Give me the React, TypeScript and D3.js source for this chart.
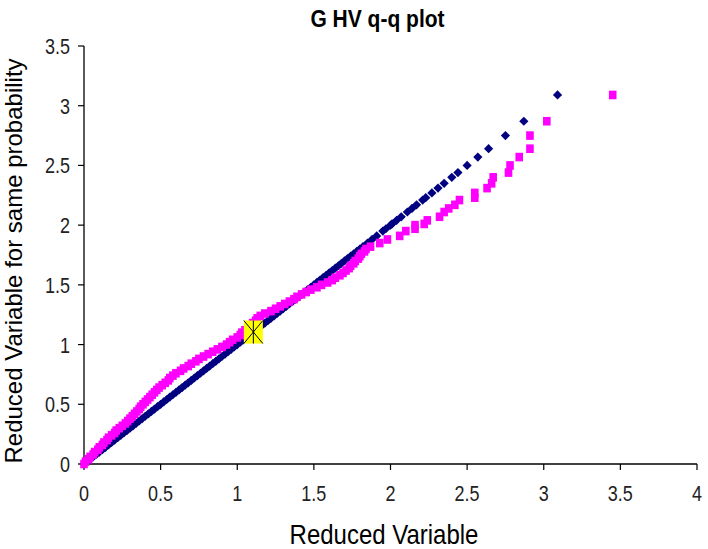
import React from "react";
import * as d3 from "d3";

const xTicks = [0, 0.5, 1, 1.5, 2, 2.5, 3, 3.5, 4];
const yTicks = [0, 0.5, 1, 1.5, 2, 2.5, 3, 3.5];

// theoretical reduced variable (shared probability axis)
const theoretical = [
  0.0, 0.02, 0.04, 0.06, 0.08, 0.1, 0.12, 0.14, 0.16, 0.18,
  0.2, 0.22, 0.24, 0.26, 0.28, 0.3, 0.32, 0.34, 0.36, 0.38,
  0.4, 0.42, 0.44, 0.46, 0.48, 0.5, 0.52, 0.54, 0.56, 0.58,
  0.6, 0.62, 0.64, 0.66, 0.68, 0.7, 0.72, 0.74, 0.76, 0.78,
  0.8, 0.82, 0.84, 0.86, 0.88, 0.9, 0.92, 0.94, 0.96, 0.98,
  1.0, 1.02, 1.04, 1.06, 1.08, 1.1, 1.12, 1.14, 1.16, 1.18,
  1.2, 1.22, 1.24, 1.26, 1.28, 1.3, 1.32, 1.34, 1.36, 1.38,
  1.4, 1.42, 1.44, 1.46, 1.48, 1.5, 1.52, 1.54, 1.56, 1.58,
  1.6, 1.62, 1.64, 1.66, 1.68, 1.7, 1.72, 1.74, 1.76, 1.78,
  1.8, 1.82,
  1.85, 1.88, 1.91, 1.95, 1.97, 2.0, 2.01, 2.04, 2.07, 2.11,
  2.14, 2.17, 2.21, 2.23, 2.27, 2.31, 2.35, 2.4, 2.44, 2.5,
  2.57, 2.64, 2.75, 2.87, 3.09,
];

// observed (empirical) reduced variable for the same probability
const empirical = [
  0.0, 0.01, 0.03, 0.04, 0.06, 0.07, 0.09, 0.1, 0.12, 0.13,
  0.15, 0.16, 0.18, 0.2, 0.21, 0.23, 0.25, 0.27, 0.285, 0.3,
  0.315, 0.33, 0.345, 0.36, 0.37, 0.385, 0.4, 0.415, 0.43, 0.445,
  0.46, 0.475, 0.49, 0.51, 0.53, 0.55, 0.56, 0.58, 0.6, 0.63,
  0.65, 0.68, 0.7, 0.73, 0.75, 0.78, 0.81, 0.84, 0.87, 0.9,
  0.93, 0.95, 0.97, 1.0, 1.02, 1.03, 1.05, 1.07, 1.08, 1.1,
  1.12, 1.13, 1.15, 1.18, 1.22, 1.25, 1.28, 1.31, 1.34, 1.37,
  1.39, 1.42, 1.45, 1.48, 1.52, 1.55, 1.59, 1.62, 1.64, 1.67,
  1.69, 1.71, 1.73, 1.74, 1.76, 1.77, 1.79, 1.8, 1.81, 1.83,
  1.84, 1.87,
  1.93, 1.98, 2.06, 2.1, 2.16, 2.16, 2.22, 2.24, 2.32, 2.35,
  2.38, 2.42, 2.45, 2.55, 2.55, 2.63, 2.66, 2.67, 2.77, 2.78,
  2.84, 2.91, 2.91, 3.02, 3.45,
];

const highlightX = [1.105];
const highlightY = [1.105];

const W = 708;
const H = 549;
const left = 84;
const right = 697;
const top = 46;
const bottom = 464;

export default function App() {
  const x = d3.scaleLinear().domain([0, 4]).range([left, right]);
  const y = d3.scaleLinear().domain([0, 3.5]).range([bottom, top]);
  const font = "'Liberation Sans', Arial, sans-serif";
  const d = 4.6;
  const sw = 7.6;
  const sh = 8.6;
  const mw = 19;
  const mh = 23;

  return (
    <svg
      width={W}
      height={H}
      style={{ position: "absolute", left: 0, top: 0, background: "#fff" }}
      fontFamily={font}
    >
      <rect x={0} y={0} width={W} height={H} fill="#fff" />
      <text
        transform="translate(377.5,26.7) scale(1,1.16)"
        textAnchor="middle"
        fontSize={21}
        fontWeight="bold"
        fill="#000"
      >
        G HV q-q plot
      </text>

      {/* axes */}
      <line x1={left} y1={top} x2={left} y2={bottom} stroke="#000" strokeWidth={1.3} />
      <line x1={left} y1={bottom} x2={right} y2={bottom} stroke="#000" strokeWidth={1.3} />
      {yTicks.map((t) => (
        <g key={"y" + t}>
          <line x1={left - 6} x2={left} y1={y(t)} y2={y(t)} stroke="#000" strokeWidth={1.2} />
          <text
            transform={`translate(70,${y(t) + 8}) scale(1,1.24)`}
            textAnchor="end"
            fontSize={18}
            fill="#222"
          >
            {t}
          </text>
        </g>
      ))}
      {xTicks.map((t) => (
        <g key={"x" + t}>
          <line x1={x(t)} x2={x(t)} y1={bottom} y2={bottom + 6} stroke="#000" strokeWidth={1.2} />
          <text
            transform={`translate(${x(t)},501) scale(1,1.24)`}
            textAnchor="middle"
            fontSize={18}
            fill="#222"
          >
            {t}
          </text>
        </g>
      ))}

      {/* navy: theoretical vs theoretical */}
      {theoretical.map((v, i) => {
        const cx = x(v);
        const cy = y(v);
        return (
          <path
            key={"n" + i}
            d={`M${cx},${cy - d}L${cx + d},${cy}L${cx},${cy + d}L${cx - d},${cy}Z`}
            fill="#000080"
          />
        );
      })}

      {/* magenta: empirical vs theoretical */}
      {empirical.map((v, i) => (
        <rect
          key={"m" + i}
          x={x(v) - sw / 2}
          y={y(theoretical[i]) - sh / 2}
          width={sw}
          height={sh}
          fill="#ff00ff"
        />
      ))}

      {/* highlighted point */}
      {highlightX.map((v, i) => {
        const cx = x(v);
        const cy = y(highlightY[i]);
        return (
          <g key={"h" + i}>
            <rect x={cx - mw / 2} y={cy - mh / 2} width={mw} height={mh} fill="#ffff00" />
            <line x1={cx - mw / 2} y1={cy - mh / 2} x2={cx + mw / 2} y2={cy + mh / 2} stroke="#000" strokeWidth={1} />
            <line x1={cx - mw / 2} y1={cy + mh / 2} x2={cx + mw / 2} y2={cy - mh / 2} stroke="#000" strokeWidth={1} />
            <line x1={cx} y1={cy - mh / 2} x2={cx} y2={cy + mh / 2} stroke="#000" strokeWidth={1} />
          </g>
        );
      })}

      <text
        transform="translate(384,544) scale(1,1.18)"
        textAnchor="middle"
        fontSize={24}
        fill="#000"
      >
        Reduced Variable
      </text>
      <text
        transform={`translate(21.5,261) rotate(-90)`}
        textAnchor="middle"
        fontSize={24}
        fill="#000"
      >
        Reduced Variable for same probability
      </text>
    </svg>
  );
}
